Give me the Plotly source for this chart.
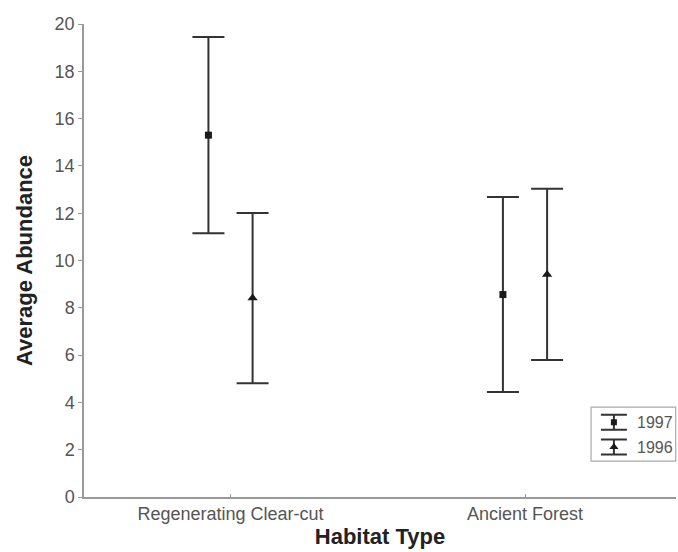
import plotly.graph_objects as go

# ---- data ----
categories = ["Regenerating Clear-cut", "Ancient Forest"]
series_names = ["1997", "1996"]
mean_1997 = [15.3, 8.56]
err_1997 = [4.15, 4.12]
mean_1996 = [8.41, 9.41]
err_1996 = [3.6, 3.62]
y_ticks = [0, 2, 4, 6, 8, 10, 12, 14, 16, 18, 20]

# ---- layout helpers ----
cat_x = [1, 2]
OFF = 0.075

FONT = "Liberation Sans, Arial, sans-serif"
LINE = "#333333"
TICKC = "#555555"

fig = go.Figure()

def add_series(means, errs, off, symbol, size, name):
    fig.add_trace(go.Scatter(
        x=[c + off for c in cat_x], y=means, mode="markers", name=name,
        marker=dict(symbol=symbol, size=size, color="#1a1a1a"),
        error_y=dict(type="data", array=errs, visible=True, color=LINE, thickness=2, width=16),
        showlegend=False, hoverinfo="y"))

add_series(mean_1997, err_1997, -OFF, "square", 7, series_names[0])
add_series(mean_1996, err_1996, OFF, "triangle-up", 9, series_names[1])

# ---- manual legend with error-bar icons ----
leg_y = [0.72, 0.26]
leg_sym = [("square", 6), ("triangle-up", 8)]
for i, nm in enumerate(series_names):
    fig.add_trace(go.Scatter(
        x=[0.27], y=[leg_y[i]], mode="markers", xaxis="x2", yaxis="y2",
        marker=dict(symbol=leg_sym[i][0], size=leg_sym[i][1], color="#1a1a1a"),
        error_y=dict(type="data", array=[0.14], visible=True, color=LINE, thickness=2, width=13),
        showlegend=False, hoverinfo="skip"))
    fig.add_annotation(x=0.52, y=leg_y[i], xref="x2", yref="y2", text=nm, showarrow=False,
                       xanchor="left", yanchor="middle", font=dict(family=FONT, size=16, color=TICKC))

fig.add_shape(type="rect", xref="paper", yref="paper", x0=0.8565, x1=0.9995, y0=0.076, y1=0.19,
              line=dict(color="#aaaaaa", width=1.2), fillcolor="rgba(0,0,0,0)")

fig.update_layout(
    width=678, height=552,
    margin=dict(l=84, r=2, t=24, b=55),
    paper_bgcolor="white", plot_bgcolor="white",
    font=dict(family=FONT, color=TICKC),
    xaxis=dict(range=[0.5025, 2.5127], tickvals=cat_x, ticktext=categories,
               showline=True, linecolor="#999999", linewidth=1.5, showgrid=False, zeroline=False,
               ticks="inside", ticklen=3, tickcolor="#999", tickfont=dict(size=18, color=TICKC),
               title=dict(text="<b>Habitat Type</b>", font=dict(size=22, color="#222"), standoff=3)),
    yaxis=dict(range=[0, 20], tickvals=y_ticks, showline=True, linecolor="#999999", linewidth=1.5,
               showgrid=False, zeroline=False, ticks="outside", ticklen=4, tickcolor="#999",
               tickfont=dict(size=18, color=TICKC),
               title=dict(text="<b>Average Abundance</b>", font=dict(size=22, color="#222"), standoff=16)),
    xaxis2=dict(domain=[0.8565, 0.9995], range=[0, 1], visible=False, anchor="y2"),
    yaxis2=dict(domain=[0.076, 0.19], range=[0, 1], visible=False, anchor="x2"),
)

fig.write_html("out.html", config={"displayModeBar": False},
               post_script="document.body.style.margin='0';document.body.style.overflow='hidden';")
